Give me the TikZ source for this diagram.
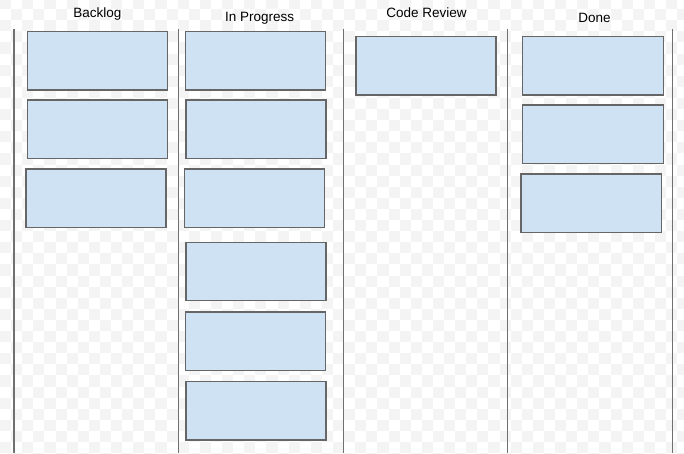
\documentclass[tikz,border=0pt]{standalone}
\usepackage{fontspec}
\setmainfont{Liberation Sans}
\definecolor{cardfill}{HTML}{CFE2F3}
\definecolor{cardline}{HTML}{666666}
\definecolor{laneline}{HTML}{707070}
\definecolor{checker}{HTML}{F4F4F4}
\begin{document}
\begin{tikzpicture}[x=1pt,y=-1pt,
  card/.style={draw=cardline,fill=cardfill,line width=1.1pt},
  lane/.style={draw=laneline,line width=1.3pt},
  title/.style={font=\fontsize{13.5}{16}\selectfont,anchor=base,inner sep=0pt}]
\useasboundingbox (0,0) rectangle (684,453);
% faint checkerboard background
\foreach \i in {0,...,61}{
  \foreach \j in {0,...,41}{
    \pgfmathtruncatemacro{\chkpar}{mod(\i+\j,2)}
    \ifnum\chkpar=0
      \fill[checker] ({\i*11.1},{\j*11.1-2}) rectangle ({\i*11.1+11.1},{\j*11.1+9.1});
    \fi
  }
}
% lane separators
\coordinate (l1t) at (14,29); \coordinate (l1b) at (14,453);
\coordinate (l2t) at (178.7,28.5); \coordinate (l2b) at (178.7,453);
\coordinate (l3t) at (343.3,28.5); \coordinate (l3b) at (343.3,453);
\coordinate (l4t) at (507.8,29); \coordinate (l4b) at (507.8,453);
\coordinate (l5t) at (672.3,29); \coordinate (l5b) at (672.3,453);
\draw[lane] (l1t) -- (l1b);
\draw[lane] (l2t) -- (l2b);
\draw[lane] (l3t) -- (l3b);
\draw[lane] (l4t) -- (l4b);
\draw[lane] (l5t) -- (l5b);
% titles
\node[title] (tback) at (97.3,17.3) {Backlog};
\node[title] (tprog) at (259.7,21) {In Progress};
\node[title] (trev) at (426.5,17.3) {Code Review};
\node[title] (tdone) at (594.5,22.5) {Done};
% Backlog cards
\path[card] (27.3,31.7) rectangle (167.3,90) node[midway] (b1) {};
\path[card] (27.3,100) rectangle (167.3,158.3) node[midway] (b2) {};
\path[card] (26,169) rectangle (166,227.3) node[midway] (b3) {};
% In Progress cards
\path[card] (185.3,31.7) rectangle (325.3,90) node[midway] (p1) {};
\path[card] (186,100) rectangle (326,158.3) node[midway] (p2) {};
\path[card] (184.3,169) rectangle (324.3,227.3) node[midway] (p3) {};
\path[card] (186,242.3) rectangle (326,300.6) node[midway] (p4) {};
\path[card] (185.3,312) rectangle (325.3,370.3) node[midway] (p5) {};
\path[card] (186,381.7) rectangle (326,440) node[midway] (p6) {};
% Code Review card
\path[card] (356,36.7) rectangle (496,95) node[midway] (r1) {};
% Done cards
\path[card] (522.7,36.7) rectangle (663.3,95) node[midway] (d1) {};
\path[card] (522.7,105) rectangle (663.3,163.3) node[midway] (d2) {};
\path[card] (521,174) rectangle (661.3,232.3) node[midway] (d3) {};
\end{tikzpicture}
\end{document}
